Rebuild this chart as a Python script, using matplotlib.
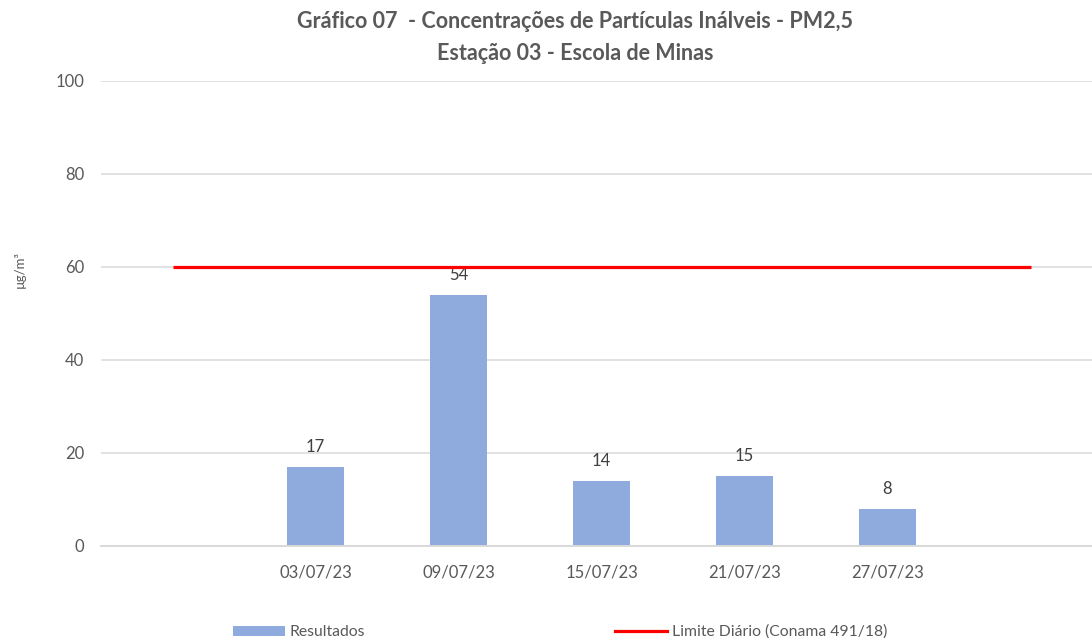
import matplotlib
matplotlib.use("Agg")
import matplotlib.pyplot as plt
from matplotlib.patches import Patch
from matplotlib.lines import Line2D

plt.rcParams['font.family'] = ['Lato', 'DejaVu Sans']

categories = ["", "03/07/23", "09/07/23", "15/07/23", "21/07/23", "27/07/23", ""]
resultados = [None, 17, 54, 14, 15, 8, None]
limite = [60, 60, 60, 60, 60, 60, 60]
yticks = [0, 20, 40, 60, 80, 100]

title1 = "Gráfico 07  - Concentrações de Partículas Inálveis - PM2,5"
title2 = "Estação 03 - Escola de Minas"

TXT = "#595959"
BAR = "#8FAADC"
GRID = "#D9D9D9"

fig = plt.figure(figsize=(10.92, 6.40), dpi=100)
ax = fig.add_axes([101/1092, 1-546/640, 1-101/1092, (546-80.7)/640])

x = list(range(len(categories)))
bx = [i for i, v in zip(x, resultados) if v is not None]
bv = [v for v in resultados if v is not None]
ax.bar(bx, bv, width=0.4, color=BAR, zorder=2)
for xi, v in zip(bx, bv):
    ax.annotate(f"{v}", (xi, v), xytext=(0, 8.5), textcoords="offset points",
                ha="center", va="bottom", fontsize=12, color="#404040")

ax.plot(x, limite, color="#FF0000", lw=2.3, zorder=3, solid_capstyle="butt")

ax.set_xlim(-0.5, 6.43)
ax.set_ylim(0, 100)
ax.set_yticks(yticks)
ax.set_xticks(x)
ax.set_xticklabels(categories)
ax.yaxis.grid(True, color=GRID, lw=1.1, zorder=0)
ax.set_axisbelow(True)
for s in ["top", "right", "left"]:
    ax.spines[s].set_visible(False)
ax.spines["bottom"].set_color(GRID)
ax.spines["bottom"].set_linewidth(1.4)
ax.tick_params(axis="both", length=0, labelsize=12, colors=TXT)
ax.tick_params(axis="x", pad=13)
ax.tick_params(axis="y", pad=12)

fig.text(20/1092, 1-269/640, "µg/m³", rotation=90, ha="center", va="center",
         fontsize=9.5, color=TXT)

fig.text(575/1092, 1-22/640, title1, ha="center", va="center",
         fontsize=15.5, fontweight="bold", color=TXT)
fig.text(575/1092, 1-53/640, title2, ha="center", va="center",
         fontsize=15.5, fontweight="bold", color=TXT)

handles = [Patch(facecolor=BAR, edgecolor="none"),
           Line2D([0], [0], color="#FF0000", lw=2.3)]
labels = ["Resultados", "Limite Diário (Conama 491/18)"]
fig.legend(handles, labels, loc="center", bbox_to_anchor=(560/1092, 1-632/640),
           ncol=2, frameon=False, fontsize=11.3, labelcolor=TXT,
           handlelength=3.3, handleheight=0.6, handletextpad=0.32, columnspacing=15.9,
           borderpad=0.1)

fig.savefig("out.png", dpi=100)
